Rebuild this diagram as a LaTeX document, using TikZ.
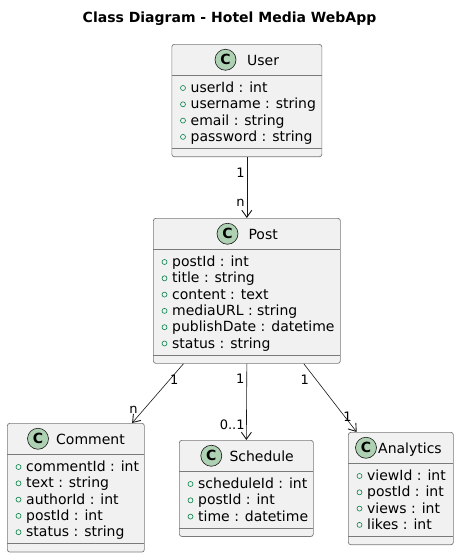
\documentclass[tikz,border=0pt]{standalone}
\usepackage{fontspec}
\setmainfont{DejaVu Sans}
\usetikzlibrary{arrows.meta}

\begin{document}
\begin{tikzpicture}[x=1pt, y=-1pt,
        every node/.style={inner sep=0pt, font=\fontsize{14}{17}\selectfont},
        classe/.style={draw=linha, fill=fundo, rounded corners=2.5pt, line width=0.7pt, anchor=north west},
        icone/.style={circle, minimum size=21pt, fill=verde, draw=borda, line width=0.6pt, font=\fontsize{14}{17}\selectfont\bfseries},
        membro/.style={anchor=base west},
        visib/.style={draw=visivel, line width=0.6pt},
        seta/.style={draw=borda, line width=0.6pt, -{Straight Barb[length=7pt,width=10pt,line width=0.9pt]}},
        rot/.style={font=\fontsize{13}{15}\selectfont}]
        % Paleta de cores
        \definecolor{borda}{HTML}{181818}
        \definecolor{linha}{HTML}{7A7A7A}
        \definecolor{fundo}{HTML}{F1F1F1}
        \definecolor{verde}{HTML}{ADD1B2}
        \definecolor{visivel}{HTML}{038048}

        % Fundo e margens
        \fill[white] (0,0) rectangle (458,558);

        % Titulo
        \node[font=\fontsize{14}{17}\selectfont\bfseries, anchor=base] (titulo) at (229.5,22.7) {Class Diagram - Hotel Media WebApp};

        % Classes: {nome/x/y/largura/linhas/circulo/rotulo/titulo/membros}
        \foreach \nome/\x/\y/\w/\n/\cx/\nx/\titulo/\membros in {
            user/171.5/44/150/4/54/75.5/User/{userId : int, username : string, email : string, password : string},
            post/153/218/187/6/74.5/95.3/Post/{postId : int, title : string, content : text, mediaURL : string, publishDate : datetime, status : string},
            comment/7/423/137/5/31/49/Comment/{commentId : int, text : string, authorId : int, postId : int, status : string},
            schedule/179/440/134/3/32.3/50.3/Schedule/{scheduleId : int, postId : int, time : datetime},
            analytics/348/432/105/4/18/30/Analytics/{viewId : int, postId : int, views : int, likes : int}} {

            \pgfmathsetmacro\h{63.5+(\n-1)*16.3}

            % Caixa da classe
            \node[classe, minimum width=\w pt, minimum height=\h pt] (\nome) at (\x,\y) {};
            \draw[linha, line width=0.7pt] (\x,\y+31.5) -- ++(\w,0);
            \draw[linha, line width=0.7pt] (\x,\y+\h-8) -- ++(\w,0);

            % Cabecalho com o icone C
            \node[icone] at (\x+\cx,\y+15.75) {C};
            \node[anchor=base west] at (\x+\nx,\y+21.3) {\titulo};

            % Atributos publicos
            \foreach \m [count=\k] in \membros {
                \pgfmathsetmacro\yy{\y+44+(\k-1)*16.3}
                \draw[visib] (\x+11.5,\yy) circle (2.5pt);
                \node[membro] at (\x+19,\yy+4.5) {\m};
            }
        }

        % Associacoes com multiplicidade
        \draw[seta] (user) -- node[rot, pos=0.25, anchor=east, xshift=-2pt] {1}
            node[rot, pos=0.75, anchor=east, xshift=-2pt] {n} (post);
        \draw[seta] (post.229) -- node[rot, pos=0.265, anchor=west] {1}
            node[rot, pos=0.77, anchor=east, xshift=-6pt] {n} (comment.49);
        \draw[seta] (post.south) -- node[rot, pos=0.195, anchor=east, xshift=-2pt] {1}
            node[rot, pos=0.8, anchor=east, xshift=-1.5pt] {0..1} (schedule.north);
        \draw[seta] (post.308.5) -- node[rot, pos=0.233, anchor=east, xshift=-7pt] {1}
            node[rot, pos=0.77, anchor=west, xshift=-1.5pt] {1} (analytics.128);
\end{tikzpicture}
\end{document}
